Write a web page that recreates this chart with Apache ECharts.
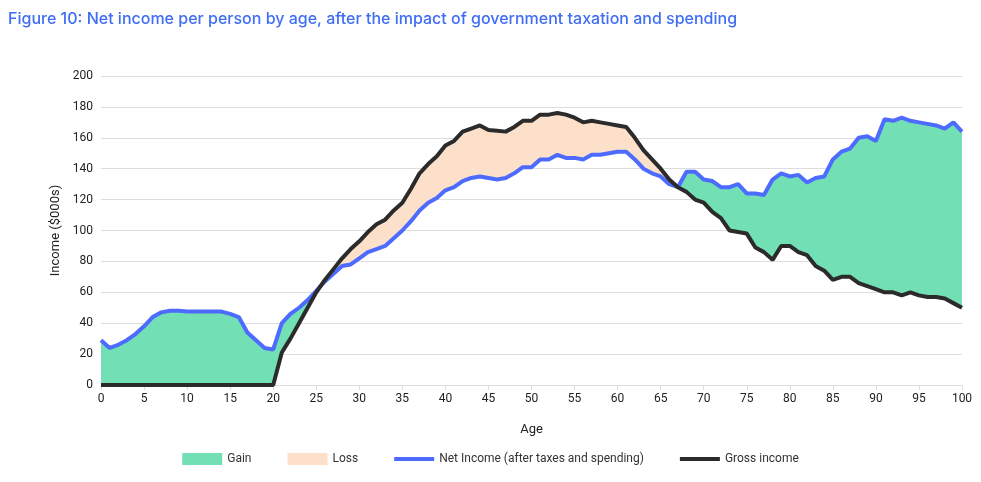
<!DOCTYPE html>
<html>
<head>
<meta charset="utf-8">
<script src="https://cdn.jsdelivr.net/npm/echarts@6/dist/echarts.min.js"></script>
<style>
  html, body { margin: 0; padding: 0; background: #fff; }
  #chart { width: 981px; height: 482px; }
</style>
</head>
<body>
<div id="chart"></div>
<script>
var ages = [];
for (var a = 0; a <= 100; a++) ages.push(String(a));

// net income after taxes and spending ($000s)
var netIncome = [29,24,26,29,33,38,44,47,48,48,47.5,47.5,47.5,47.5,47.5,46,44,34,29,24,
  23,40,46,50,55,61,67,72,77,78,82,86,88,90,95,100,106,113,118,121,
  126,128,132,134,135,134,133,134,137,141,141,146,146,149,147,147,146,149,149,150,
  151,151,146,140,137,135,130,128,138,138,133,132,128,128,130,124,124,123,133,137,
  135,136,131,134,135,146,151,153,160,161,158,172,171,173,171,170,169,168,166,170,164];

// gross income ($000s)
var grossIncome = [0,0,0,0,0,0,0,0,0,0,0,0,0,0,0,0,0,0,0,0,
  0,21,30,40,50,60,68,75,82,88,93,99,104,107,113,118,127,137,143,148,
  155,158,164,166,168,165,164.5,164,167,171,171,175,175,176,175,173,170,171,170,169,
  168,167,160,152,146,140,133,128,125,120,118,112,108,100,99,98,89,86,81,90,
  90,86,84,77,74,68,70,70,66,64,62,60,60,58,60,58,57,57,56,53,50];

var yTicks = [0, 20, 40, 60, 80, 100, 120, 140, 160, 180, 200];

var base = [], gain = [], loss = [];
for (var i = 0; i < ages.length; i++) {
    base.push(Math.min(netIncome[i], grossIncome[i]));
    gain.push(Math.max(netIncome[i] - grossIncome[i], 0));
    loss.push(Math.max(grossIncome[i] - netIncome[i], 0));
}

var lineIcon = 'path://M0,0L40,0L40,4L0,4Z';
var myChart = echarts.init(document.getElementById('chart'));
var option = {
    animation: false,
    title: {
        text: 'Figure 10: Net income per person by age, after the impact of government taxation and spending',
        left: 3, top: 6,
        textStyle: { color: '#3f6df5', fontSize: 16, fontWeight: 500, fontFamily: 'Inter' }
    },
    legend: {
        bottom: 12, left: 'center', itemGap: 36, itemWidth: 40, itemHeight: 12,
        textStyle: { color: '#333', fontSize: 12, fontFamily: 'Roboto' },
        data: [
            { name: 'Gain', icon: 'rect' },
            { name: 'Loss', icon: 'rect' },
            { name: 'Net Income (after taxes and spending)', icon: lineIcon },
            { name: 'Gross income', icon: lineIcon }
        ]
    },
    grid: { left: 101, right: 19, top: 76, bottom: 97 },
    xAxis: {
        type: 'category', data: ages, boundaryGap: false,
        name: 'Age', nameLocation: 'middle', nameGap: 38,
        nameTextStyle: { color: '#222', fontSize: 13, fontFamily: 'Roboto' },
        axisLine: { lineStyle: { color: '#ddd' } },
        axisTick: { interval: 4, lineStyle: { color: '#ddd' } },
        axisLabel: { interval: 4, color: '#222', fontSize: 12, fontFamily: 'Roboto' }
    },
    yAxis: {
        type: 'value', min: yTicks[0], max: yTicks[yTicks.length - 1], interval: 20,
        name: 'Income ($000s)', nameLocation: 'middle', nameGap: 38,
        nameTextStyle: { color: '#222', fontSize: 13, fontFamily: 'Roboto' },
        axisLabel: { color: '#222', fontSize: 12, fontFamily: 'Roboto' },
        splitLine: { lineStyle: { color: '#ddd' } }
    },
    series: [
        { name: 'base', type: 'line', stack: 'f', data: base, symbol: 'none',
          lineStyle: { opacity: 0 }, silent: true },
        { name: 'Gain', type: 'line', stack: 'f', data: gain, symbol: 'none',
          lineStyle: { opacity: 0 }, itemStyle: { color: '#72e0b4' },
          areaStyle: { color: '#72e0b4', opacity: 1 } },
        { name: 'Loss', type: 'line', stack: 'f', data: loss, symbol: 'none',
          lineStyle: { opacity: 0 }, itemStyle: { color: '#fde0c9' },
          areaStyle: { color: '#fde0c9', opacity: 1 } },
        { name: 'Net Income (after taxes and spending)', type: 'line', data: netIncome,
          symbol: 'none', itemStyle: { color: '#4d6bfe' },
          lineStyle: { color: '#4d6bfe', width: 4 } },
        { name: 'Gross income', type: 'line', data: grossIncome,
          symbol: 'none', itemStyle: { color: '#2b2b2b' },
          lineStyle: { color: '#2b2b2b', width: 4 } }
    ]
};
myChart.setOption(option);
</script>
</body>
</html>
